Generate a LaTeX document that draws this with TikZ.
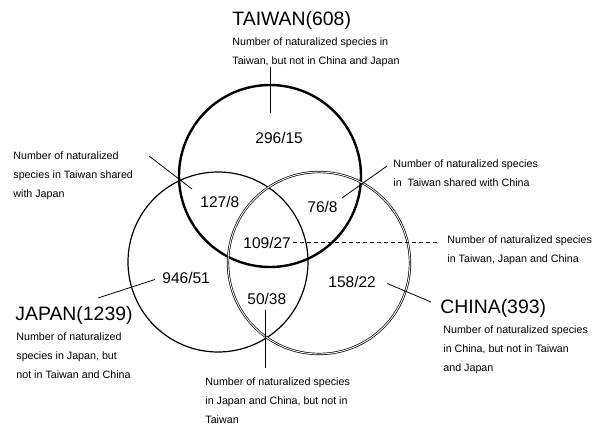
\documentclass[tikz,border=0pt]{standalone}
\usepackage{fontspec}
\setmainfont{Liberation Sans}

\begin{document}
\begin{tikzpicture}[x=1pt,y=-1pt,line width=.8pt,
  ttl/.style={anchor=base west,inner sep=0pt,font=\fontsize{19.4}{22}\selectfont},
  num/.style={anchor=base west,inner sep=0pt,font=\fontsize{15.5}{18}\selectfont},
  lbl/.style={anchor=north west,inner sep=0pt,align=left,font=\fontsize{10.7}{19}\selectfont}]
\path[use as bounding box] (0,0) rectangle (597,426);
% the three circles
\draw[line width=2.4pt] (270,176) circle (91pt);
\draw[line width=1.2pt] (218,262) circle (90pt);
\draw[double,double distance=.9pt,line width=.7pt] (319,263) circle (91pt);
% titles and notes
\node[ttl] (taiwan) at (232,25) {TAIWAN(608)};
\node[lbl] (twnote) at (232,37.2) {Number of naturalized species in\\Taiwan, but not in China and Japan};
\node[ttl] (japan) at (15,320) {JAPAN(1239)};
\node[lbl] (jpnote) at (16,332.2) {Number of naturalized\\species in Japan, but\\not in Taiwan and China};
\node[ttl] (china) at (440,313) {CHINA(393)};
\node[lbl] (cnnote) at (443,325.2) {Number of naturalized species\\in China, but not in Taiwan\\and Japan};
\node[lbl] (tjnote) at (13,151.2) {Number of naturalized\\species in Taiwan shared\\with Japan};
\node[lbl] (tcnote) at (393,159.2) {Number of naturalized species\\in\ \ Taiwan shared with China};
\node[lbl] (allnote) at (447,235.2) {Number of naturalized species\\in Taiwan, Japan and China};
\node[lbl] (jcnote) at (205,377.8) {Number of naturalized species\\in Japan and China, but not in\\Taiwan};
% counts
\node[num] (tw) at (255,143) {296/15};
\node[num] (tj) at (200,207) {127/8};
\node[num] (tc) at (307,212) {76/8};
\node[num] (all) at (243,248) {109/27};
\node[num] (jp) at (162,283) {946/51};
\node[num] (jc) at (247,304) {50/38};
\node[num] (cn) at (328,287) {158/22};
% leader lines
\coordinate (twend) at (270,113);
\coordinate (tja) at (149,156);
\coordinate (tjb) at (192,189);
\coordinate (tca) at (387,166);
\coordinate (tcb) at (342,198);
\coordinate (dashend) at (438,242);
\coordinate (jpa) at (98,298);
\coordinate (jca) at (265,310);
\coordinate (jcb) at (265,368);
\coordinate (cnb) at (431,302);
\draw (twnote.south -| twend) -- (twend);
\draw (tja) -- (tjb);
\draw (tca) -- (tcb);
\draw[dashed,dash pattern=on 4pt off 3pt,line width=1pt] ([xshift=2pt]all.east) -- (all.east -| dashend);
\draw (jpa) -- ([xshift=-7pt,yshift=-2pt]jp.west);
\draw (jca) -- (jcb);
\draw ([xshift=11pt,yshift=-2pt]cn.east) -- (cnb);
\end{tikzpicture}
\end{document}
